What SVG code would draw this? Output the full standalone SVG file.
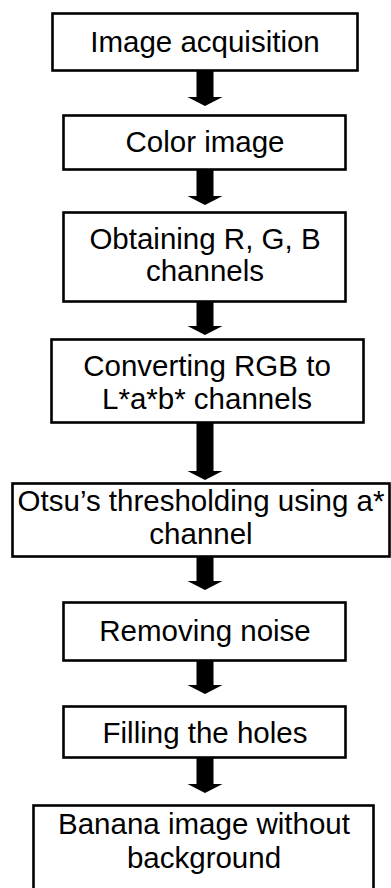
<svg xmlns="http://www.w3.org/2000/svg" width="391" height="888" viewBox="0 0 391 888">
  <style>
    .box { fill: #ffffff; stroke: #000000; stroke-width: 2.6; }
    .lbl { font-family: "Liberation Sans", Arial, sans-serif; font-size: 29.5px; fill: #000000; text-anchor: middle; }
    .arrow { fill: #000000; stroke: none; }
  </style>
  <rect width="391" height="888" fill="#ffffff"/>

  <!-- block arrows between steps -->
  <g id="connectors">
    <path class="arrow" d="M196.5,71 H213.5 V97 H222.5 L205,106 L187.5,97 H196.5 Z"/>
    <path class="arrow" d="M196.5,170 H213.5 V196 H222.5 L205,205 L187.5,196 H196.5 Z"/>
    <path class="arrow" d="M196.5,302 H213.5 V326 H222.5 L205,335 L187.5,326 H196.5 Z"/>
    <path class="arrow" d="M196.5,423 H213.5 V471 H222.5 L205,480 L187.5,471 H196.5 Z"/>
    <path class="arrow" d="M196.5,557 H213.5 V581 H222.5 L205,590 L187.5,581 H196.5 Z"/>
    <path class="arrow" d="M196.5,661 H213.5 V685 H222.5 L205,694 L187.5,685 H196.5 Z"/>
    <path class="arrow" d="M196.5,758 H213.5 V784 H222.5 L205,793 L187.5,784 H196.5 Z"/>
  </g>

  <g id="acquisition">
    <rect class="box" x="52.5" y="13.5" width="305" height="57"/>
    <text class="lbl" x="205" y="52">Image acquisition</text>
  </g>

  <g id="color-image">
    <rect class="box" x="63.5" y="115.5" width="282" height="54"/>
    <text class="lbl" x="205" y="152">Color image</text>
  </g>

  <g id="rgb-channels">
    <rect class="box" x="63.5" y="212.5" width="282" height="89"/>
    <text class="lbl" x="205" y="249">Obtaining R, G, B</text>
    <text class="lbl" x="205" y="281">channels</text>
  </g>

  <g id="lab-conversion">
    <rect class="box" x="51.5" y="339.5" width="312" height="83"/>
    <text class="lbl" x="207" y="376">Converting RGB to</text>
    <text class="lbl" x="207" y="409">L*a*b* channels</text>
  </g>

  <g id="otsu">
    <rect class="box" x="12.5" y="483.5" width="377" height="73"/>
    <text class="lbl" x="201" y="511">Otsu’s thresholding using a*</text>
    <text class="lbl" x="201" y="544">channel</text>
  </g>

  <g id="noise-removal">
    <rect class="box" x="63.5" y="602.5" width="282" height="58"/>
    <text class="lbl" x="205" y="641">Removing noise</text>
  </g>

  <g id="hole-filling">
    <rect class="box" x="63.5" y="706.5" width="282" height="51"/>
    <text class="lbl" x="205" y="743">Filling the holes</text>
  </g>

  <g id="result">
    <rect class="box" x="33.5" y="805.5" width="340" height="90"/>
    <text class="lbl" x="204" y="834">Banana image without</text>
    <text class="lbl" x="204" y="868">background</text>
  </g>
</svg>
